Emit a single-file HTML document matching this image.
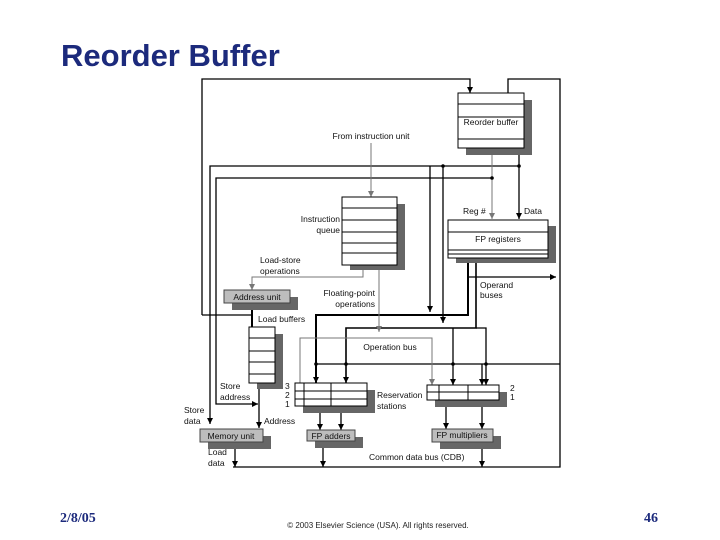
<!DOCTYPE html>
<html><head><meta charset="utf-8"><style>
body{margin:0;background:#fff;}
svg{display:block;font-family:"Liberation Sans",sans-serif;}
</style></head><body>
<svg width="720" height="540" viewBox="0 0 720 540" xmlns="http://www.w3.org/2000/svg">
<defs>
<marker id="a" markerWidth="7" markerHeight="6" refX="6" refY="3" orient="auto" markerUnits="userSpaceOnUse"><path d="M0,0 L6,3 L0,6 z" fill="#000"/></marker>
<marker id="ag" markerWidth="7" markerHeight="6" refX="6" refY="3" orient="auto" markerUnits="userSpaceOnUse"><path d="M0,0 L6,3 L0,6 z" fill="#777"/></marker>
<marker id="ar" markerWidth="7" markerHeight="6" refX="6" refY="3" orient="auto" markerUnits="userSpaceOnUse"><path d="M0,0 L6,3 L0,6 z" fill="#000"/></marker>
</defs>
<text x="61" y="66" font-size="31" font-weight="bold" fill="#1c2a7c">Reorder Buffer</text>

<g fill="none" stroke="#000" stroke-width="1.3">
<polyline points="202,315 202,79 470,79 470,93" marker-end="url(#a)"/>
<polyline points="508,93 508,79 560,79 560,467 233,467"/>
<polyline points="202,315 252,315"/>
<polyline points="519,166 210,166 210,424" marker-end="url(#a)"/>
<polyline points="492,178 216,178 216,404 258,404" marker-end="url(#ar)"/>
<polyline points="430,166 430,312" marker-end="url(#a)"/>
<polyline points="443,166 443,323" marker-end="url(#a)"/>
<polyline points="519,148 519,219" marker-end="url(#a)"/>
<polyline points="453,328 453,385" marker-end="url(#a)"/>
<polyline points="316,364 560,364"/>
<polyline points="482,364 482,385" marker-end="url(#a)"/>
<polyline points="252,303 252,327" stroke-width="2"/>
<polyline points="259,383 259,428" marker-end="url(#a)"/>
<polyline points="235,442 235,467" marker-end="url(#a)"/>
<polyline points="320,406 320,430" marker-end="url(#a)"/>
<polyline points="341,406 341,430" marker-end="url(#a)"/>
<polyline points="323,441 323,467" marker-end="url(#a)"/>
<polyline points="446,400 446,429" marker-end="url(#a)"/>
<polyline points="482,400 482,429" marker-end="url(#a)"/>
<polyline points="482,442 482,467" marker-end="url(#a)"/>
<polyline points="468,258 468,315 316,315 316,383" stroke-width="2" marker-end="url(#a)"/>
<polyline points="476,258 476,328 346,328 346,383" stroke-width="1.6" marker-end="url(#a)"/>
<polyline points="476,328 486,328 486,385" marker-end="url(#a)"/>
<polyline points="468,277 556,277" marker-end="url(#ar)"/>
</g>
<g fill="none" stroke="#777" stroke-width="1">
<polyline points="492,148 492,219" marker-end="url(#ag)"/>
<polyline points="371,143 371,197" marker-end="url(#ag)"/>
<polyline points="363,265 363,277 252,277 252,290" marker-end="url(#ag)"/>
<polyline points="379,265 379,332" marker-end="url(#ag)"/>
<polyline points="300,383 300,338 432,338 432,385" marker-end="url(#ag)"/>
</g>
<g fill="#000"><circle cx="519" cy="166" r="1.8"/><circle cx="492" cy="178" r="1.8"/><circle cx="443" cy="166" r="1.8"/><circle cx="316" cy="364" r="1.8"/><circle cx="346" cy="364" r="1.8"/><circle cx="453" cy="364" r="1.8"/><circle cx="486" cy="364" r="1.8"/></g>

<g fill="#666">
<rect x="466" y="100" width="66" height="55"/>
<rect x="350" y="204" width="55" height="66"/>
<rect x="456" y="226" width="100" height="37"/>
<rect x="232" y="297" width="66" height="13"/>
<rect x="257" y="334" width="26" height="55"/>
<rect x="303" y="390" width="72" height="23"/>
<rect x="435" y="392" width="72" height="15"/>
<rect x="208" y="436" width="63" height="13"/>
<rect x="315" y="437" width="48" height="11"/>
<rect x="440" y="436" width="61" height="13"/>
</g>
<g stroke="#000" stroke-width="1" fill="#fff">
<rect x="458" y="93" width="66" height="55"/>
<line x1="458" y1="104" x2="524" y2="104"/><line x1="458" y1="117" x2="524" y2="117"/><line x1="458" y1="139" x2="524" y2="139"/>
<rect x="342" y="197" width="55" height="68"/>
<line x1="342" y1="208" x2="397" y2="208"/><line x1="342" y1="220" x2="397" y2="220"/><line x1="342" y1="232" x2="397" y2="232"/><line x1="342" y1="243" x2="397" y2="243"/><line x1="342" y1="253" x2="397" y2="253"/>
<rect x="448" y="220" width="100" height="38"/>
<line x1="448" y1="232" x2="548" y2="232"/><line x1="448" y1="250" x2="548" y2="250"/><line x1="448" y1="254" x2="548" y2="254"/>
<rect x="249" y="327" width="26" height="56"/>
<line x1="249" y1="338" x2="275" y2="338"/><line x1="249" y1="351" x2="275" y2="351"/><line x1="249" y1="362" x2="275" y2="362"/><line x1="249" y1="374" x2="275" y2="374"/>
<rect x="295" y="383" width="72" height="23"/>
<line x1="304" y1="383" x2="304" y2="406"/><line x1="331" y1="383" x2="331" y2="406"/><line x1="295" y1="391" x2="367" y2="391"/><line x1="295" y1="399" x2="367" y2="399"/>
<rect x="427" y="385" width="72" height="15"/>
<line x1="439" y1="385" x2="439" y2="400"/><line x1="468" y1="385" x2="468" y2="400"/><line x1="427" y1="392" x2="499" y2="392"/>
</g>
<g stroke="#444" stroke-width="1" fill="#bdbdbd">
<rect x="224" y="290" width="66" height="13"/>
<rect x="200" y="429" width="63" height="13"/>
<rect x="307" y="430" width="48" height="11"/>
<rect x="432" y="429" width="61" height="13"/>
</g>
<g font-size="8.5" fill="#111">
<text x="491" y="125" text-anchor="middle">Reorder buffer</text>
<text x="371" y="139" text-anchor="middle">From instruction unit</text>
<text x="340" y="222" text-anchor="end">Instruction</text>
<text x="340" y="233" text-anchor="end">queue</text>
<text x="463" y="214">Reg #</text>
<text x="524" y="214">Data</text>
<text x="498" y="242" text-anchor="middle">FP registers</text>
<text x="260" y="263">Load-store</text>
<text x="260" y="274">operations</text>
<text x="257" y="300" text-anchor="middle">Address unit</text>
<text x="375" y="296" text-anchor="end">Floating-point</text>
<text x="375" y="307" text-anchor="end">operations</text>
<text x="480" y="288">Operand</text>
<text x="480" y="298">buses</text>
<text x="258" y="322">Load buffers</text>
<text x="390" y="350" text-anchor="middle">Operation bus</text>
<text x="220" y="389">Store</text>
<text x="220" y="400">address</text>
<text x="184" y="413">Store</text>
<text x="184" y="424">data</text>
<text x="264" y="424">Address</text>
<text x="231" y="439" text-anchor="middle">Memory unit</text>
<text x="331" y="439" text-anchor="middle">FP adders</text>
<text x="462" y="438" text-anchor="middle">FP multipliers</text>
<text x="285" y="389">3</text><text x="285" y="398">2</text><text x="285" y="407">1</text>
<text x="377" y="398">Reservation</text>
<text x="377" y="409">stations</text>
<text x="510" y="391">2</text><text x="510" y="400">1</text>
<text x="208" y="455">Load</text>
<text x="208" y="466">data</text>
<text x="369" y="460">Common data bus (CDB)</text>
</g>
<text x="60" y="522" font-family="Liberation Serif,serif" font-size="14" font-weight="bold" fill="#1c2a7c">2/8/05</text>
<text x="658" y="522" font-family="Liberation Serif,serif" font-size="14" font-weight="bold" fill="#1c2a7c" text-anchor="end">46</text>
<text x="378" y="528" font-size="8" fill="#222" text-anchor="middle">© 2003 Elsevier Science (USA). All rights reserved.</text>
</svg>
</body></html>
